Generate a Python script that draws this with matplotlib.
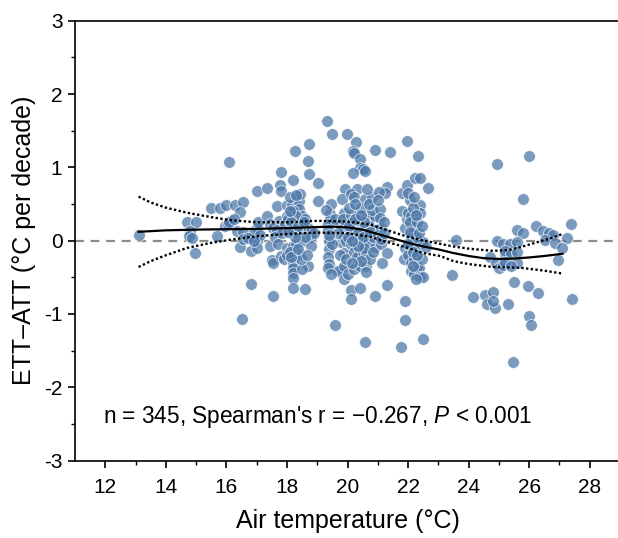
import matplotlib
matplotlib.use("Agg")
import matplotlib.pyplot as plt
import numpy as np

plt.rcParams['font.family'] = ['Liberation Sans', 'DejaVu Sans']
plt.rcParams['mathtext.fontset'] = 'custom'
plt.rcParams['mathtext.rm'] = 'Liberation Sans'
plt.rcParams['mathtext.it'] = 'Liberation Sans:italic'
plt.rcParams['axes.unicode_minus'] = False

# ---- scatter data (air temperature, ETT-ATT) ----
pts = [
    (13.1, 0.08),
    (14.7, 0.26), (15.0, 0.26), (14.8, 0.13), (14.75, 0.06), (14.85, 0.03), (14.95, -0.17),
    (15.5, 0.45), (15.8, 0.45), (16.0, 0.48), (16.3, 0.48), (16.55, 0.52), (16.45, 0.39),
    (15.7, 0.06), (15.95, 0.2), (16.15, 0.27), (16.05, 0.22), (16.1, 0.25), (16.35, 0.13),
    (16.55, 0.12), (16.45, -0.09), (16.55, 0.02), (16.1, 1.07), (16.5, -1.07), (16.8, -0.59),
    (16.8, -0.14), (16.8, 0.04), (17.0, 0.0), (17.0, -0.1), (17.0, 0.68), (17.0, 0.17),
    (16.9, 0.1), (17.1, 0.08), (16.7, 0.04), (16.9, 0.0), (16.25, 0.3), (17.05, 0.25),
    (17.33, 0.72), (17.77, 0.76), (17.8, 0.68), (17.8, 0.94), (17.66, 0.47), (17.33, 0.33),
    (17.75, 0.27), (17.44, 0.22), (17.55, 0.17), (17.66, 0.15), (17.44, -0.08), (17.5, -0.27),
    (17.55, -0.3), (17.8, -0.21), (17.9, -0.25), (17.55, -0.76), (17.94, 0.22), (17.6, 0.05),
    (17.85, 0.1), (17.7, -0.05),
    (18.0, 0.49), (18.16, 0.49), (18.32, 0.47), (18.4, 0.54), (18.4, 0.43), (18.5, 0.34),
    (18.2, 0.4), (18.3, 0.34), (18.0, 0.34), (18.2, 0.15), (18.3, 0.11), (18.5, 0.17),
    (18.7, 0.17), (18.8, 0.12), (18.0, -0.1), (18.2, -0.08), (18.3, -0.05), (18.5, 0.0),
    (18.8, 0.05), (18.8, -0.07), (18.0, -0.2), (18.4, -0.18), (18.2, -0.3), (18.2, -0.37),
    (18.2, -0.44), (18.2, -0.51), (18.7, -0.34), (18.5, -0.39), (18.2, -0.64), (18.6, -0.66),
    (18.25, 1.22), (18.74, 1.32), (18.71, 1.09), (18.74, 0.91), (18.21, 0.82), (18.43, 0.63),
    (18.1, 0.6), (18.05, 0.3), (18.15, 0.25), (18.35, 0.2), (18.6, 0.3), (18.9, 0.1),
    (18.1, -0.15), (18.45, -0.25), (18.6, 0.05), (18.3, 0.62), (18.1, 0.4), (18.25, 0.05),
    (18.15, -0.22), (18.35, -0.12), (18.55, 0.25), (18.65, -0.2), (18.05, 0.12),
    (19.04, 0.79), (19.04, 0.54), (19.32, 1.63), (19.48, 1.46), (19.97, 1.45), (19.42, 0.36),
    (19.42, 0.29), (19.35, 0.22), (19.9, 0.37), (19.8, 0.22), (19.9, 0.17), (19.4, 0.03),
    (19.4, 0.0), (19.4, -0.12), (19.8, -0.02), (19.9, 0.03), (19.35, -0.22), (19.4, -0.32),
    (19.35, -0.37), (19.9, -0.17), (19.8, -0.4), (19.7, -0.42), (19.9, -0.35), (19.9, -0.53),
    (19.6, -1.15), (19.92, 0.71), (19.81, 0.57), (19.45, 0.5), (19.35, 0.15), (19.5, -0.05),
    (19.7, 0.1), (19.95, 0.0), (19.6, 0.3), (19.3, 0.42), (19.75, -0.2), (19.45, -0.45),
    (19.85, 0.3), (19.95, -0.25), (19.38, 0.08),
    (20.28, 1.35), (20.17, 1.22), (20.2, 1.2), (20.91, 1.23), (20.42, 1.11), (20.42, 0.99),
    (20.5, 0.97), (20.58, 0.95), (20.19, 0.92), (20.3, 0.70), (20.1, 0.64), (20.2, 0.6),
    (20.58, 0.57), (20.1, 0.35), (20.3, 0.38), (20.6, 0.36), (20.7, 0.3), (20.9, 0.34),
    (20.1, 0.1), (20.2, 0.2), (20.4, 0.15), (20.5, 0.17), (20.7, 0.2), (20.9, 0.15),
    (20.1, -0.04), (20.2, -0.01), (20.3, 0.04), (20.4, 0.0), (20.6, -0.06), (20.7, 0.0),
    (20.9, -0.09), (20.2, -0.15), (20.3, -0.22), (20.0, -0.45), (20.2, -0.39), (20.4, -0.34),
    (20.5, -0.15), (20.6, -0.2), (20.6, -0.34), (20.6, -0.43), (20.1, -0.68), (20.4, -0.65),
    (20.1, -0.8), (20.9, -0.76), (20.58, -1.38), (20.05, 0.45), (20.15, 0.25), (20.35, 0.28),
    (20.45, 0.45), (20.55, 0.25), (20.65, 0.1), (20.8, 0.42), (20.85, 0.05), (20.05, 0.2),
    (20.25, 0.5), (20.75, -0.25), (20.45, -0.28), (20.15, -0.3), (20.35, 0.1), (20.55, -0.1),
    (20.0, 0.05), (20.8, 0.6), (20.65, 0.7), (20.25, 0.3), (20.5, 0.05), (20.75, 0.12),
    (20.35, -0.08), (20.15, 0.0), (20.45, 0.35), (20.7, 0.5), (20.85, -0.15),
    (21.41, 1.21), (21.3, 0.73), (21.24, 0.65), (21.05, 0.66), (21.79, 0.65), (21.08, 0.43),
    (21.08, 0.31), (21.1, 0.17), (21.0, 0.08), (21.1, 0.04), (21.1, -0.05), (21.1, 0.02),
    (21.9, 0.17), (21.9, -0.1), (21.3, -0.17), (21.3, -0.6), (21.9, -0.82), (21.9, -1.09),
    (21.76, -1.45), (21.96, 0.76), (21.96, 1.36), (21.2, 0.25), (21.15, -0.3), (21.85, -0.25),
    (21.8, 0.4), (21.95, 0.3), (21.0, 0.55), (21.2, 0.1),
    (22.32, 1.15), (22.23, 0.86), (22.38, 0.86), (22.67, 0.72), (22.07, 0.56), (22.4, 0.49),
    (22.0, 0.37), (22.1, 0.34), (22.4, 0.37), (22.1, 0.1), (22.2, 0.17), (22.1, 0.04),
    (22.1, -0.05), (22.2, -0.12), (22.4, -0.05), (22.5, -0.02), (22.6, -0.09), (22.5, -1.34),
    (22.0, -0.2), (22.1, -0.3), (22.2, -0.25), (22.3, -0.35), (22.1, -0.42), (22.2, -0.45),
    (22.35, -0.38), (22.4, -0.5), (22.5, -0.5), (22.05, 0.25), (22.15, 0.45), (22.3, 0.25),
    (22.25, 0.05), (22.0, -0.05), (22.45, -0.25), (22.15, -0.15), (22.3, -0.2), (22.0, 0.65),
    (22.2, 0.6), (22.25, 0.35), (22.05, 0.12), (22.35, 0.1), (22.15, -0.35), (22.25, -0.52),
    (22.45, 0.2),
    (23.59, 0.01), (23.44, -0.47), (24.16, -0.77),
    (24.95, 1.04), (26.01, 1.15), (25.79, 0.57), (27.39, 0.22), (26.22, 0.2), (25.59, 0.14),
    (25.81, 0.1), (26.47, 0.13), (26.67, 0.1), (26.8, 0.08), (24.93, 0.0), (25.15, -0.05),
    (25.37, -0.05), (25.59, -0.02), (26.53, 0.01), (26.86, -0.03), (27.25, 0.04), (27.1, -0.1),
    (26.95, -0.27), (24.71, -0.23), (25.2, -0.18), (25.2, -0.14), (25.4, -0.18), (25.6, -0.16),
    (24.9, -0.31), (25.0, -0.37), (25.15, -0.33), (25.2, -0.29), (25.6, -0.31), (25.4, -0.35),
    (25.5, -0.57), (25.95, -0.62), (26.3, -0.72), (27.43, -0.8), (24.55, -0.74), (24.6, -0.86),
    (24.82, -0.7), (24.87, -0.92), (24.8, -0.82), (25.3, -0.86), (26.0, -1.03), (26.07, -1.15),
    (25.46, -1.65),
]
air_temp = [p[0] for p in pts]
ett_att = [p[1] for p in pts]

# ---- fitted curve and confidence band ----
fit_x = [13.1, 14.0, 15.0, 16.0, 17.0, 18.0, 19.0, 19.5, 20.0, 20.5, 21.0, 21.5, 22.0,
         22.5, 23.0, 23.5, 24.0, 24.5, 25.0, 25.5, 26.0, 26.5, 27.1]
fit_y = [0.12, 0.14, 0.15, 0.155, 0.16, 0.17, 0.185, 0.19, 0.18, 0.15, 0.09, 0.03, -0.03,
         -0.08, -0.12, -0.17, -0.21, -0.24, -0.25, -0.245, -0.23, -0.21, -0.18]
up_x = [13.1, 13.5, 14.0, 14.7, 15.5, 16.1, 17.0, 18.0, 19.0, 20.0, 20.75, 21.4, 22.0,
        22.4, 23.0, 23.5, 24.0, 24.8, 25.3, 25.7, 26.2, 26.7, 27.1]
up_y = [0.6, 0.52, 0.45, 0.38, 0.32, 0.28, 0.25, 0.25, 0.27, 0.26, 0.22, 0.13, 0.05,
        0.01, -0.04, -0.08, -0.11, -0.14, -0.13, -0.09, -0.03, 0.03, 0.09]
lo_x = [13.1, 13.5, 14.0, 14.7, 15.5, 16.1, 17.0, 18.0, 19.0, 20.0, 20.75, 21.4, 22.0,
        22.5, 23.06, 23.5, 24.0, 24.8, 25.7, 26.5, 27.1]
lo_y = [-0.36, -0.28, -0.2, -0.1, -0.03, 0.01, 0.06, 0.09, 0.11, 0.1, 0.05, -0.03, -0.1,
        -0.17, -0.21, -0.28, -0.32, -0.36, -0.37, -0.41, -0.45]

x_ticks = [12, 14, 16, 18, 20, 22, 24, 26, 28]
y_ticks = [-3, -2, -1, 0, 1, 2, 3]

fig = plt.figure(figsize=(6.18, 5.38), dpi=100)
ax = fig.add_axes([75/618, 77.5/538, 545/618, 439.8/538])

ax.axhline(0, color='#8c8c8c', lw=1.6, ls=(0, (4, 3)), zorder=1)
ax.scatter(air_temp, ett_att, s=72, color='#4d78a8', alpha=0.75,
           edgecolors='white', linewidths=0.6, zorder=2)
ax.plot(fit_x, fit_y, color='black', lw=1.6, zorder=3)
ax.plot(up_x, up_y, color='black', lw=1.7, ls=(0, (1, 1)), zorder=3)
ax.plot(lo_x, lo_y, color='black', lw=1.7, ls=(0, (1, 1)), zorder=3)

ax.set_xlim(11, 29)
ax.set_ylim(-3, 3)
ax.set_xticks(x_ticks)
ax.set_yticks(y_ticks)
ax.set_xticks(np.arange(13, 30, 2), minor=True)
ax.set_yticks(np.arange(-2.5, 3, 1.0), minor=True)
ax.spines['right'].set_visible(False)
for s in ['left', 'bottom', 'top']:
    ax.spines[s].set_linewidth(1.2)
ax.tick_params(which='major', direction='out', length=5, width=1.2, labelsize=15)
ax.tick_params(axis='x', which='major', pad=7.5)
ax.tick_params(axis='y', which='major', pad=4)
ax.tick_params(which='minor', direction='out', length=3, width=1.0)

ax.set_xlabel('Air temperature (°C)', fontsize=18, labelpad=9)
ax.set_ylabel('ETT–ATT (°C per decade)', fontsize=18, labelpad=6)

ax.text(11.93, -2.4, "n = 345, Spearman's r = \u22120.267, $P$ < 0.001",
        fontsize=16.3, va='center', ha='left')

fig.savefig('out.png', dpi=100)
